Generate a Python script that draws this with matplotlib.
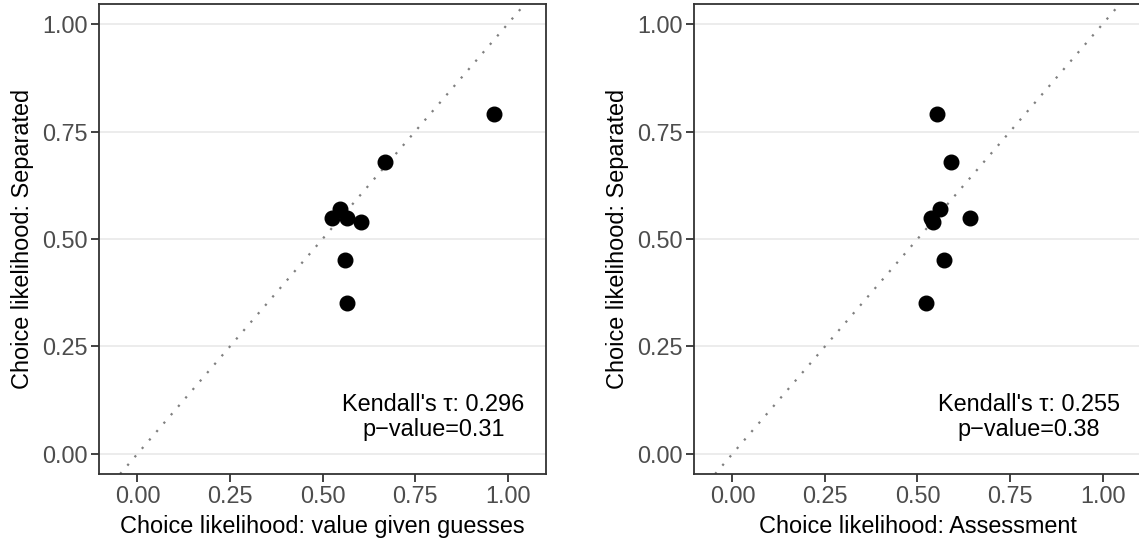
import numpy as np
import matplotlib
matplotlib.use("Agg")
import matplotlib.pyplot as plt

plt.rcParams['font.family'] = ['Liberation Sans', 'DejaVu Sans']

# values
separated = [0.79, 0.68, 0.57, 0.55, 0.55, 0.54, 0.45, 0.35]
guesses_x = [0.963, 0.670, 0.546, 0.526, 0.565, 0.605, 0.560, 0.565]
assess_x = [0.552, 0.591, 0.561, 0.537, 0.641, 0.542, 0.571, 0.522]

panels = [
    ("Choice likelihood: value given guesses", guesses_x, "Kendall's \u03c4: 0.296\np\u2212value=0.31"),
    ("Choice likelihood: Assessment", assess_x, "Kendall's \u03c4: 0.255\np\u2212value=0.38"),
]
ticks = [0.0, 0.25, 0.5, 0.75, 1.0]
tick_labels = ["0.00", "0.25", "0.50", "0.75", "1.00"]

W, H = 1139, 544
fig = plt.figure(figsize=(W / 100, H / 100), dpi=100)
fs = 16.9

lefts = [99, 694]
for (xlabel, xs, note), left in zip(panels, lefts):
    ax = fig.add_axes([left / W, (H - 474) / H, 447 / W, 470 / H])
    ax.set_xlim(-0.104, 1.104)
    ax.set_ylim(-0.047, 1.047)
    for t in ticks:
        ax.axhline(t, color='#EBEBEB', lw=1.3, zorder=0)
    ax.axline((0, 0), (1, 1), color='#7F7F7F', lw=1.6, linestyle=(0, (1, 4.0)), zorder=1)
    ax.plot(xs, separated, 'o', color='black', markersize=10.5, zorder=3)
    ax.text(0.8, 0.085, note, ha='center', va='center', multialignment='center',
            fontsize=fs, linespacing=1.1, zorder=4)
    ax.set_xticks(ticks)
    ax.set_xticklabels(tick_labels)
    ax.set_yticks(ticks)
    ax.set_yticklabels(tick_labels)
    ax.tick_params(labelsize=fs, labelcolor='#4D4D4D', color='#333333',
                   length=5.5, width=1.3, pad=2.5)
    for s in ax.spines.values():
        s.set_color('#333333')
        s.set_linewidth(1.3)
    ax.set_xlabel(xlabel, fontsize=fs, labelpad=5)
    ax.set_ylabel("Choice likelihood: Separated", fontsize=fs, labelpad=6)

fig.savefig("out.png", dpi=100)
